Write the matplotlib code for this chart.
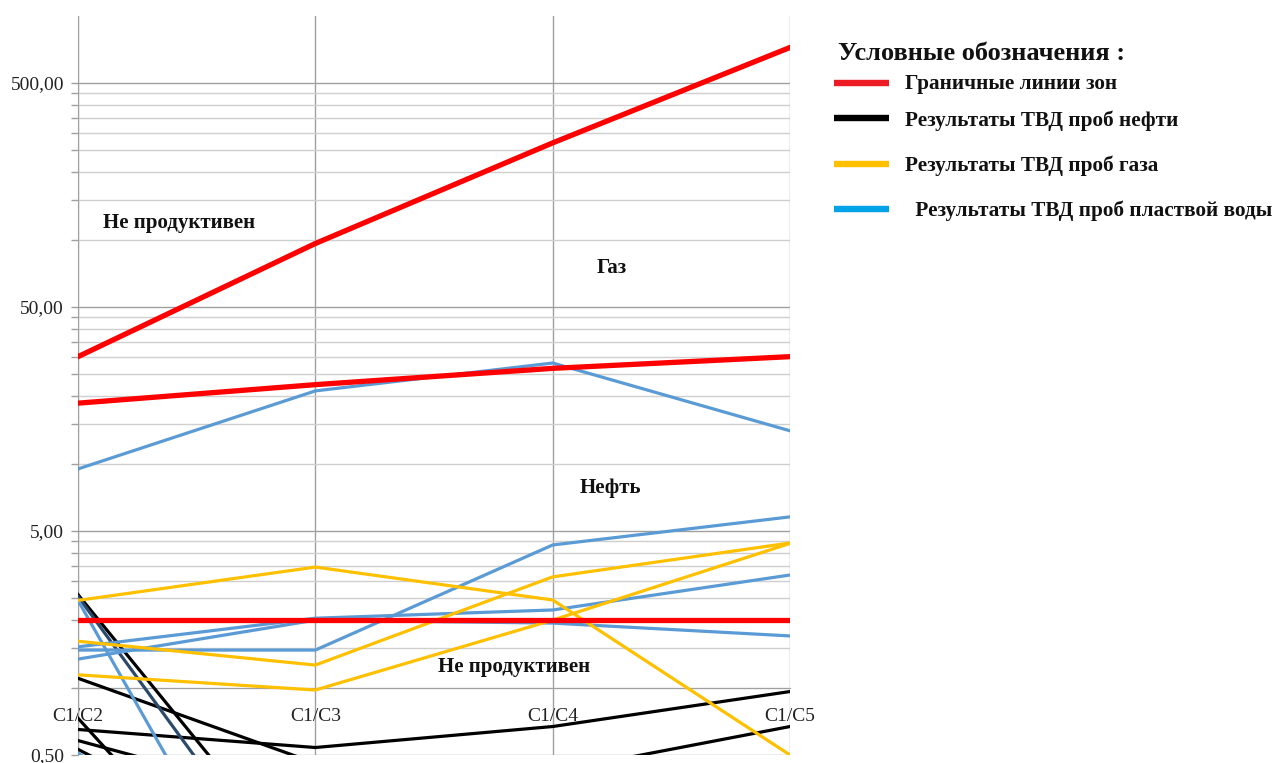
import matplotlib
matplotlib.use("Agg")
import matplotlib.pyplot as plt
from matplotlib.lines import Line2D
from matplotlib.ticker import FixedLocator, NullFormatter

plt.rcParams['font.family'] = ['Liberation Serif', 'DejaVu Serif']

# ---------------- data ----------------
categories = ["C1/C2", "C1/C3", "C1/C4", "C1/C5"]

# zone boundary lines (red)
zone_upper = [30.0, 96.0, 270.0, 720.0]
zone_middle = [18.6, 22.5, 26.6, 30.0]
zone_lower = [2.0, 2.0, 2.0, 2.0]

# oil samples (black)
oil_1 = [1.10, 0.46, 0.42, 0.67]
oil_2 = [0.65, 0.54, 0.67, 0.96]
oil_3 = [0.58, 0.30, 0.25, 0.25]
oil_4 = [2.60, 0.13, 0.10, 0.10]
oil_5 = [0.73, 0.05, 0.05, 0.05]
oil_6 = [0.53, 0.15, 0.10, 0.10]
oil_dark = [2.55, 0.09, 0.08, 0.08]

# gas samples (yellow)
gas_1 = [2.45, 3.45, 2.46, 0.50]
gas_2 = [1.61, 1.26, 3.12, 4.42]
gas_3 = [1.14, 0.975, 2.00, 4.40]

# formation water samples (blue)
water_1 = [9.46, 21.1, 28.1, 14.0]
water_2 = [1.47, 1.47, 4.33, 5.78]
water_3 = [1.52, 2.04, 2.22, 3.18]
water_4 = [1.34, 2.00, 1.94, 1.70]
water_5 = [2.45, 0.033, 0.03, 0.03]
water_6 = [0.51, 0.10, 0.10, 0.10]

y_major = [0.5, 5, 50, 500]
y_major_labels = ["0,50", "5,00", "50,00", "500,00"]

legend_title = "Условные обозначения :"
legend_labels = ["Граничные линии зон", "Результаты ТВД проб нефти",
                 "Результаты ТВД проб газа", " Результаты ТВД проб пластвой воды"]

# ---------------- styles ----------------
RED = "#FF0000"
BLACK = "#000000"
YELLOW = "#FFC000"
BLUE = "#5B9BD5"
DARK = "#2B4A6B"
GRID_MAJ = "#A0A0A0"
GRID_MIN = "#CFCFCF"

W, H = 1278, 763
fig = plt.figure(figsize=(W / 100, H / 100), dpi=100)
ax = fig.add_axes([78 / W, 1 - 755 / H, (790 - 78) / W, (755 - 15.5) / H])

x = list(range(len(categories)))
ax.set_yscale("log")
ax.set_xlim(0, 3)
ax.set_ylim(0.5, 1000)

lw_data = 2.3
for s in [oil_1, oil_2, oil_3, oil_4, oil_5, oil_6]:
    ax.plot(x, s, color=BLACK, lw=lw_data, zorder=3)
ax.plot(x, oil_dark, color=DARK, lw=lw_data, zorder=3)
for s in [water_1, water_2, water_3, water_4, water_5, water_6]:
    ax.plot(x, s, color=BLUE, lw=lw_data, zorder=4)
for s in [gas_1, gas_2, gas_3]:
    ax.plot(x, s, color=YELLOW, lw=lw_data, zorder=5)
for s in [zone_upper, zone_middle, zone_lower]:
    ax.plot(x, s, color=RED, lw=3.8, zorder=6)

# y ticks / grid
minor_vals = [k * b for b in y_major for k in range(2, 10)]
minor_vals = [v for v in minor_vals if v < 1000]
ax.yaxis.set_major_locator(FixedLocator(y_major))
ax.yaxis.set_minor_locator(FixedLocator(minor_vals))
ax.set_yticklabels(y_major_labels)
ax.yaxis.set_minor_formatter(NullFormatter())
ax.tick_params(axis="y", which="both", direction="out", length=5, width=1,
               color=GRID_MAJ, labelsize=14, pad=5, labelcolor="#222222")
ax.grid(axis="y", which="major", color=GRID_MAJ, lw=1.0, zorder=0)
ax.grid(axis="y", which="minor", color=GRID_MIN, lw=1.0, zorder=0)

# x axis crossing at 1.0
ax.set_xticks(x)
ax.set_xticklabels(categories)
ax.spines["bottom"].set_position(("data", 1.0))
ax.spines["bottom"].set_color(GRID_MAJ)
ax.tick_params(axis="x", length=0, labelsize=14, pad=15, labelcolor="#222222")
ax.grid(axis="x", color=GRID_MAJ, lw=1.0, zorder=0)
ax.spines["left"].set_color(GRID_MAJ)
ax.spines["top"].set_visible(False)
ax.spines["right"].set_visible(False)
ax.set_axisbelow(True)

# zone annotations
tkw = dict(fontsize=15, fontweight="bold", color="#111111", ha="center", va="center", zorder=7)
ax.text(0.425, 118, "Не продуктивен", **tkw)
ax.text(2.248, 75, "Газ", **tkw)
ax.text(2.244, 7.8, "Нефть", **tkw)
ax.text(1.836, 1.24, "Не продуктивен", **tkw)

# legend (drawn manually)
def fx(px):
    return px / W

def fy(py):
    return 1 - py / H

fig.text(fx(838), fy(53), legend_title, fontsize=19, fontweight="bold",
         color="#111111", ha="left", va="center")
leg_colors = ["#ED1C24", "#000000", "#FFC000", "#00A2E8"]
leg_y = [83, 118, 164, 209]
leg_text_y = [84, 121, 166, 211]
leg_tx = [905, 905, 905, 910]
for c, yy, ty, lab, tx in zip(leg_colors, leg_y, leg_text_y, legend_labels, leg_tx):
    fig.add_artist(Line2D([fx(834), fx(889)], [fy(yy), fy(yy)], color=c, lw=4.6,
                          transform=fig.transFigure, solid_capstyle="butt"))
    fig.text(fx(tx), fy(ty), lab, fontsize=15.3, fontweight="bold", color="#111111",
             ha="left", va="center")

fig.savefig("out.png", dpi=100)
